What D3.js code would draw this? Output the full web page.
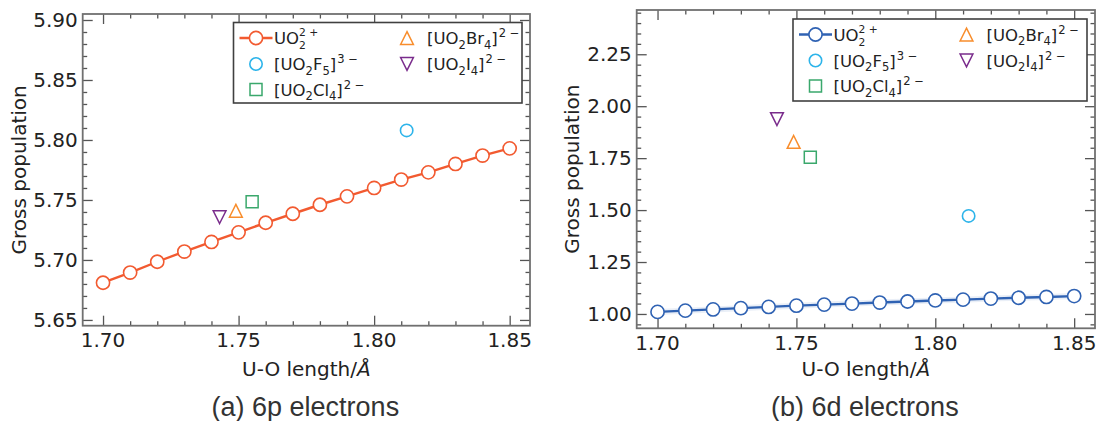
<!DOCTYPE html>
<html><head><meta charset="utf-8">
<script src="https://cdn.jsdelivr.net/npm/d3@7"></script>
<style>body{margin:0;background:#fff}</style>
</head><body><svg id="c" width="1099" height="421" xmlns="http://www.w3.org/2000/svg"></svg>
<script>
// ---------- data ----------
const uoLength = [1.70,1.71,1.72,1.73,1.74,1.75,1.76,1.77,1.78,1.79,1.80,1.81,1.82,1.83,1.84,1.85];
const pop6p = [5.681,5.6895,5.6985,5.707,5.715,5.723,5.731,5.7385,5.746,5.753,5.760,5.767,5.773,5.780,5.787,5.793];
const pop6d = [1.010,1.016,1.022,1.028,1.034,1.040,1.045,1.050,1.055,1.060,1.065,1.069,1.074,1.078,1.082,1.086];
const complexKeys = ["F5","Cl4","Br4","I4"];
const complexLength = [1.812,1.755,1.749,1.743];
const complex6p = [5.808,5.7486,5.741,5.7357];
const complex6d = [1.472,1.754,1.828,1.938];
const xTickValues = [1.70,1.75,1.80,1.85];
const yTicks6p = [5.65,5.70,5.75,5.80,5.85,5.90];
const yTicks6d = [1.00,1.25,1.50,1.75,2.00,2.25];
const captions = ["(a) 6p electrons","(b) 6d electrons"];
const xLabel = "U-O length/";
const yLabel = "Gross population";
// legend labels as [text, kind]
const legendLabels = {
  UO2: [["UO",""],["2","sub2"],["2 +","supback"]],
  F5: [["[UO",""],["2","sub"],["F",""],["5","sub"],["]",""],["3 −","sup"]],
  Cl4: [["[UO",""],["2","sub"],["Cl",""],["4","sub"],["]",""],["2 −","sup"]],
  Br4: [["[UO",""],["2","sub"],["Br",""],["4","sub"],["]",""],["2 −","sup"]],
  I4: [["[UO",""],["2","sub"],["I",""],["4","sub"],["]",""],["2 −","sup"]]
};
const complexColors = {F5:"#2db4ea", Cl4:"#3aa86c", Br4:"#f88d2c", I4:"#7a2c8c"};
const complexShapes = {F5:"circle", Cl4:"square", Br4:"up", I4:"down"};

// ---------- helpers ----------
const svg = d3.select("#c");
const FONT = "DejaVu Sans, sans-serif";
const AXFS = 20;

function markerPath(shape, s){
  if(shape==="square") return `M${-s},${-s}H${s}V${s}H${-s}Z`;
  if(shape==="up") return `M0,${-s}L${s},${s}L${-s},${s}Z`;
  if(shape==="down") return `M0,${s}L${s},${-s}L${-s},${-s}Z`;
}
function drawMarker(g, shape, x, y, color){
  if(shape==="circle"){
    g.append("circle").attr("cx",x).attr("cy",y).attr("r",6.2)
      .attr("fill","#fff").attr("stroke",color).attr("stroke-width",1.6);
  } else {
    const s = shape==="square"?6.0:6.4;
    g.append("path").attr("transform",`translate(${x},${y})`).attr("d",markerPath(shape,s))
      .attr("fill","none").attr("stroke",color).attr("stroke-width",1.5).attr("stroke-linejoin","miter");
  }
}
function richText(g, x, y, parts, fs){
  const t = g.append("text").attr("x",x).attr("y",y).attr("font-family",FONT)
    .attr("font-size",fs).attr("fill","#222");
  let cur = 0;
  parts.forEach(([txt,kind])=>{
    let target = 0, size = fs, dx = 0;
    if(kind==="sub"){ target = 0.28*fs; size = 0.7*fs; }
    if(kind==="sub2"){ target = 0.32*fs; size = 0.65*fs; }
    if(kind==="sup"){ target = -0.42*fs; size = 0.7*fs; dx = 1; }
    if(kind==="supback"){ target = -0.48*fs; size = 0.65*fs; dx = -0.415*fs; }
    const ts = t.append("tspan").attr("font-size",size).attr("dy",target-cur).text(txt);
    if(dx) ts.attr("dx",dx);
    cur = target;
  });
  return t;
}
function minorRange(a,b,step){
  const out=[]; const n=Math.round((b-a)/step);
  for(let i=0;i<=n;i++) out.push(+(a+i*step).toFixed(4));
  return out;
}

function drawPanel(cfg){
  const g = svg.append("g");
  const x = d3.scaleLinear().domain([1.6925,1.8575]).range([cfg.left,cfg.right]);
  const y = d3.scaleLinear().domain(cfg.yDomain).range([cfg.bottom,cfg.top]);
  const W = cfg.right-cfg.left, H = cfg.bottom-cfg.top;

  // ticks (inward, all four sides)
  const tickColor="#555";
  const xMinor = minorRange(1.70,1.85,0.01).filter(v=>!xTickValues.some(t=>Math.abs(t-v)<1e-6));
  const yMinor = cfg.yMinor.filter(v=>!cfg.yTicks.some(t=>Math.abs(t-v)<1e-6));
  const axB = d3.axisBottom(x).tickValues(xTickValues).tickSize(-10).tickFormat("");
  const axBm = d3.axisBottom(x).tickValues(xMinor).tickSize(-4.5).tickFormat("");
  const axT = d3.axisTop(x).tickValues(xTickValues).tickSize(-10).tickFormat("");
  const axTm = d3.axisTop(x).tickValues(xMinor).tickSize(-4.5).tickFormat("");
  const axL = d3.axisLeft(y).tickValues(cfg.yTicks).tickSize(-10).tickFormat("");
  const axLm = d3.axisLeft(y).tickValues(yMinor).tickSize(-4.5).tickFormat("");
  const axR = d3.axisRight(y).tickValues(cfg.yTicks).tickSize(-10).tickFormat("");
  const axRm = d3.axisRight(y).tickValues(yMinor).tickSize(-4.5).tickFormat("");
  [[axB,`0,${cfg.bottom}`],[axBm,`0,${cfg.bottom}`],[axT,`0,${cfg.top}`],[axTm,`0,${cfg.top}`],
   [axL,`${cfg.left},0`],[axLm,`${cfg.left},0`],[axR,`${cfg.right},0`],[axRm,`${cfg.right},0`]].forEach(([ax,tr])=>{
    const a = g.append("g").attr("transform",`translate(${tr})`).call(ax);
    a.select(".domain").remove();
    a.selectAll("line").attr("stroke",tickColor).attr("stroke-width",1.3);
  });
  // frame
  g.append("rect").attr("x",cfg.left).attr("y",cfg.top).attr("width",W).attr("height",H)
    .attr("fill","none").attr("stroke","#707070").attr("stroke-width",1.8);

  // tick labels
  g.selectAll("text.xt").data(xTickValues).enter().append("text")
    .attr("x",d=>x(d)).attr("y",cfg.bottom+21.5).attr("text-anchor","middle")
    .attr("font-family",FONT).attr("font-size",AXFS).attr("fill","#222").text(d=>d.toFixed(2));
  g.selectAll("text.yt").data(cfg.yTicks).enter().append("text")
    .attr("x",cfg.left-5).attr("y",d=>y(d)).attr("dy","0.36em").attr("text-anchor","end")
    .attr("font-family",FONT).attr("font-size",AXFS).attr("fill","#222").text(d=>d.toFixed(2));

  // axis labels
  const xl = g.append("text").attr("x",(cfg.left+cfg.right)/2).attr("y",376).attr("text-anchor","middle")
    .attr("font-family",FONT).attr("font-size",AXFS).attr("fill","#222");
  xl.append("tspan").text(xLabel);
  xl.append("tspan").attr("font-style","italic").text("Å");
  g.append("text").attr("transform",`translate(${cfg.yLabelX},${(cfg.top+cfg.bottom)/2}) rotate(-90)`)
    .attr("text-anchor","middle").attr("dy","0.35em")
    .attr("font-family",FONT).attr("font-size",AXFS).attr("fill","#222").text(yLabel);
  g.append("text").attr("x",(cfg.left+cfg.right)/2 - 1).attr("y",416).attr("text-anchor","middle")
    .attr("font-family","Liberation Sans, Arial, sans-serif").attr("font-size",27).attr("fill","#333")
    .text(cfg.caption);

  // main series
  const line = d3.line().x((d,i)=>x(uoLength[i])).y(d=>y(d));
  if(cfg.band){
    g.append("path").datum(cfg.values).attr("d",line).attr("fill","none")
      .attr("stroke",cfg.color).attr("stroke-opacity",0.1).attr("stroke-width",6);
  }
  g.append("path").datum(cfg.values).attr("d",line).attr("fill","none")
    .attr("stroke",cfg.color).attr("stroke-width",2.4);
  g.selectAll("circle.m").data(cfg.values).enter().append("circle")
    .attr("cx",(d,i)=>x(uoLength[i])).attr("cy",d=>y(d)).attr("r",6.6)
    .attr("fill","#fff").attr("stroke",cfg.color).attr("stroke-width",1.6);

  // complexes
  complexKeys.forEach((k,i)=>{
    drawMarker(g, complexShapes[k], x(complexLength[i]), y(cfg.complexVals[i]), complexColors[k]);
  });

  // legend
  const L = cfg.legend;
  const lg = g.append("g");
  lg.append("rect").attr("x",L.x).attr("y",L.y).attr("width",L.w).attr("height",L.h)
    .attr("fill","#fff").attr("stroke","#404040").attr("stroke-width",1.6);
  const r1 = L.y+15.5, r2 = L.y+41.5, r3 = L.y+67;
  const c1 = L.x+22.5, c2 = L.x+173.5, t1 = L.x+40.5, t2 = L.x+193.5;
  const LFS = 16.5;
  lg.append("line").attr("x1",L.x+6).attr("x2",L.x+39).attr("y1",r1).attr("y2",r1)
    .attr("stroke",cfg.color).attr("stroke-width",2.4);
  lg.append("circle").attr("cx",c1).attr("cy",r1).attr("r",6.6).attr("fill","#fff")
    .attr("stroke",cfg.color).attr("stroke-width",1.6);
  richText(lg, t1, r1+6, legendLabels.UO2, LFS);
  drawMarker(lg,"circle",c1,r2,complexColors.F5);
  richText(lg, t1, r2+6, legendLabels.F5, LFS);
  drawMarker(lg,"square",c1,r3,complexColors.Cl4);
  richText(lg, t1, r3+6, legendLabels.Cl4, LFS);
  drawMarker(lg,"up",c2,r1,complexColors.Br4);
  richText(lg, t2, r1+6, legendLabels.Br4, LFS);
  drawMarker(lg,"down",c2,r2,complexColors.I4);
  richText(lg, t2, r2+6, legendLabels.I4, LFS);
}

drawPanel({left:82.7,right:530,top:14,bottom:325.7,yDomain:[5.6452,5.905],
  yTicks:yTicks6p, yMinor:minorRange(5.65,5.90,0.01), values:pop6p, complexVals:complex6p,
  color:"#f25a30", caption:captions[0], yLabelX:19, band:false,
  legend:{x:233.5,y:22.5,w:288.5,h:80.5}});
drawPanel({left:636.7,right:1095,top:10,bottom:328.3,yDomain:[0.931,2.463],
  yTicks:yTicks6d, yMinor:minorRange(0.95,2.45,0.05), values:pop6d, complexVals:complex6d,
  color:"#2f62b3", caption:captions[1], yLabelX:572, band:true,
  legend:{x:793,y:19,w:294,h:82}});
</script>
</body></html>
